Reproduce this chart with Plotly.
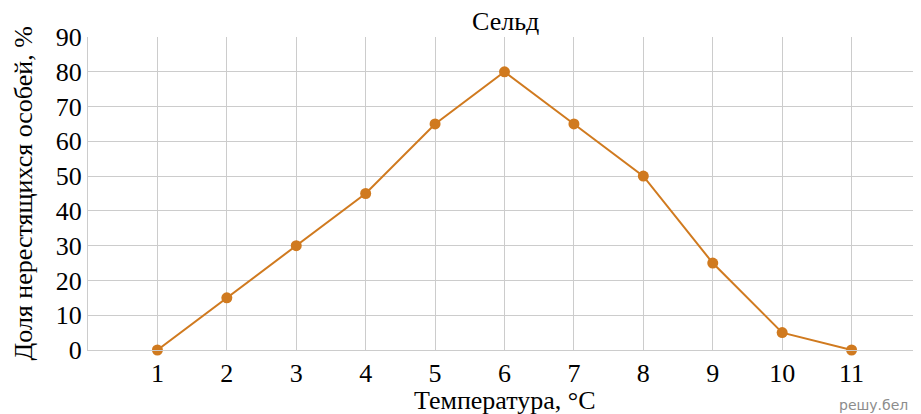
import plotly.graph_objects as go

# --- DATA ---
temperature = [1, 2, 3, 4, 5, 6, 7, 8, 9, 10, 11]
share_spawning = [0, 15, 30, 45, 65, 80, 65, 50, 25, 5, 0]
y_ticks = [0, 10, 20, 30, 40, 50, 60, 70, 80, 90]

ORANGE = "#D07A1F"
GRID = "#CCCCCC"
FONT = "Liberation Serif"

# the page body has an 8px default margin, so the figure is a bit smaller
W, H = 913, 406

fig = go.Figure()

fig.add_trace(go.Scatter(
    x=temperature,
    y=share_spawning,
    mode="lines+markers",
    line=dict(color=ORANGE, width=2),
    marker=dict(color=ORANGE, size=11),
    cliponaxis=False,
    showlegend=False,
))

# --- LAYOUT ---
fig.update_layout(
    width=W,
    height=H,
    paper_bgcolor="white",
    plot_bgcolor="white",
    margin=dict(l=80, r=0, t=29, b=64),
    font=dict(family=FONT, size=26, color="black"),
    xaxis=dict(
        range=[0, 12],
        tickvals=temperature,
        showgrid=True,
        gridcolor=GRID,
        gridwidth=1,
        zeroline=False,
        showline=True,
        linecolor=GRID,
        linewidth=1,
        ticks="",
        ticklabelstandoff=0,
        tickfont=dict(family=FONT, size=26),
    ),
    yaxis=dict(
        range=[0, 90],
        tickvals=y_ticks,
        showgrid=True,
        gridcolor=GRID,
        gridwidth=1,
        zeroline=False,
        showline=True,
        linecolor=GRID,
        linewidth=1,
        ticks="",
        ticklabelstandoff=0,
        tickfont=dict(family=FONT, size=26),
    ),
)

# title
fig.add_annotation(
    text="Сельд", xref="paper", yref="paper",
    x=(497 - 80) / 833, y=1 + (29 - 13) / 313,
    xanchor="center", yanchor="middle", showarrow=False,
    font=dict(family=FONT, size=26),
)
# x-axis title
fig.add_annotation(
    text="Температура, °С", xref="paper", yref="paper",
    x=(497 - 80) / 833, y=-(392 - 342) / 313,
    xanchor="center", yanchor="middle", showarrow=False,
    font=dict(family=FONT, size=26),
)
# y-axis title
fig.add_annotation(
    text="Доля нерестящихся особей, %", xref="paper", yref="paper",
    x=-(80 - 15) / 833, y=0.5,
    xanchor="center", yanchor="middle", textangle=-90, showarrow=False,
    font=dict(family=FONT, size=26),
)
# watermark
fig.add_annotation(
    text="решу.бел", xref="paper", yref="paper",
    x=1 - 11 / 833, y=-(397 - 342) / 313,
    xanchor="right", yanchor="middle", showarrow=False,
    font=dict(family="DejaVu Sans", size=14, color="#8C8C8C"),
)

fig.write_html("out.html")
